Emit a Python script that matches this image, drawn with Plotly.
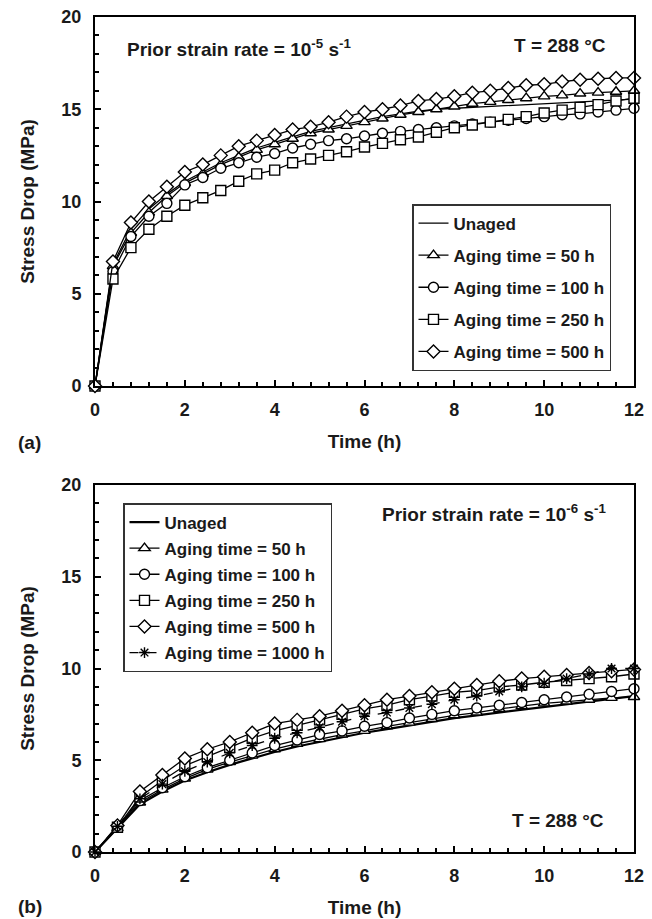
import plotly.graph_objects as go

# ---------------- Data ----------------
# Panel (a): prior strain rate 1e-5 s^-1, sampled every 0.4 h
time_a = [round(0.4 * i, 1) for i in range(31)]
a_unaged = [0, 6.6, 8.5, 9.6, 10.4, 11.1, 11.6, 12.1, 12.5, 12.9, 13.2, 13.5, 13.8, 14.0, 14.2,
            14.4, 14.6, 14.75, 14.9, 15.0, 15.05, 15.1, 15.15, 15.2, 15.25, 15.3, 15.35, 15.4,
            15.45, 15.5, 15.55]
a_50h = [0, 6.5, 8.3, 9.4, 10.3, 11.0, 11.5, 12.0, 12.4, 12.8, 13.1, 13.4, 13.7, 13.9, 14.1,
         14.3, 14.5, 14.7, 14.85, 15.0, 15.15, 15.3, 15.4, 15.5, 15.6, 15.7, 15.75, 15.85,
         15.9, 15.95, 16.0]
a_100h = [0, 6.2, 8.1, 9.2, 9.9, 10.9, 11.3, 11.8, 12.1, 12.4, 12.6, 12.9, 13.1, 13.3, 13.4,
          13.55, 13.7, 13.8, 13.9, 14.0, 14.1, 14.2, 14.3, 14.4, 14.5, 14.6, 14.7, 14.75,
          14.85, 14.95, 15.05]
a_250h = [0, 5.8, 7.5, 8.5, 9.2, 9.8, 10.2, 10.6, 11.1, 11.5, 11.7, 12.1, 12.3, 12.5, 12.7,
          12.95, 13.15, 13.35, 13.5, 13.75, 14.0, 14.15, 14.3, 14.45, 14.6, 14.8, 14.95,
          15.1, 15.25, 15.45, 15.6]
a_500h = [0, 6.75, 8.86, 10.0, 10.8, 11.6, 12.0, 12.5, 13.0, 13.3, 13.6, 13.9, 14.05, 14.3,
          14.6, 14.85, 15.0, 15.2, 15.45, 15.55, 15.7, 15.9, 16.0, 16.15, 16.3, 16.35, 16.5,
          16.6, 16.65, 16.7, 16.7]

# Panel (b): prior strain rate 1e-6 s^-1, sampled every 0.5 h
time_b = [0.5 * i for i in range(25)]
b_unaged = [0, 1.3, 2.6, 3.3, 3.9, 4.35, 4.75, 5.1, 5.45, 5.75, 6.0, 6.25, 6.5, 6.7, 6.9, 7.1,
            7.3, 7.45, 7.6, 7.75, 7.9, 8.05, 8.2, 8.35, 8.5]
b_50h = [0, 1.3, 2.7, 3.4, 4.0, 4.5, 4.9, 5.25, 5.6, 5.9, 6.15, 6.4, 6.6, 6.85, 7.05, 7.25,
         7.45, 7.6, 7.8, 7.95, 8.1, 8.2, 8.3, 8.4, 8.45]
b_100h = [0, 1.35, 2.8, 3.5, 4.1, 4.6, 5.0, 5.4, 5.8, 6.1, 6.4, 6.6, 6.85, 7.05, 7.3, 7.5,
          7.7, 7.85, 8.0, 8.15, 8.3, 8.45, 8.6, 8.75, 8.9]
b_250h = [0, 1.35, 3.0, 3.9, 4.7, 5.2, 5.7, 6.2, 6.6, 6.9, 7.2, 7.5, 7.8, 8.0, 8.3, 8.5, 8.7,
          8.8, 9.0, 9.1, 9.25, 9.35, 9.45, 9.55, 9.7]
b_500h = [0, 1.45, 3.3, 4.2, 5.1, 5.6, 6.0, 6.5, 7.0, 7.2, 7.4, 7.7, 8.0, 8.3, 8.5, 8.7, 8.9,
          9.1, 9.3, 9.45, 9.55, 9.65, 9.75, 9.85, 9.95]
b_1000h = [0, 1.4, 2.9, 3.7, 4.4, 4.9, 5.4, 5.8, 6.2, 6.5, 6.8, 7.1, 7.4, 7.6, 7.85, 8.05,
           8.3, 8.5, 8.75, 9.0, 9.2, 9.45, 9.7, 10.0, 10.0]

labels_a = ["Unaged", "Aging time = 50 h", "Aging time = 100 h", "Aging time = 250 h",
            "Aging time = 500 h"]
labels_b = labels_a + ["Aging time = 1000 h"]
symbols = [None, "triangle-up", "circle", "square", "diamond", "asterisk-open"]

FONT = "Liberation Sans, Arial, sans-serif"
TXT = "#1a1a1a"

fig = go.Figure()

series_a = [a_unaged, a_50h, a_100h, a_250h, a_500h]
for i, (lab, ys) in enumerate(zip(labels_a, series_a)):
    if symbols[i] is None:
        mode = "lines"
        marker = None
    else:
        mode = "lines+markers"
        marker = dict(symbol=symbols[i], size=10, color="white",
                      line=dict(color="black", width=1.4))
    fig.add_trace(go.Scatter(x=time_a, y=ys, name=lab, mode=mode, marker=marker,
                             line=dict(color="black", width=1.3),
                             xaxis="x", yaxis="y", legend="legend",
                             legendgroup="a%d" % i, cliponaxis=False))

series_b = [b_unaged, b_50h, b_100h, b_250h, b_500h, b_1000h]
for i, (lab, ys) in enumerate(zip(labels_b, series_b)):
    if symbols[i] is None:
        mode = "lines"
        marker = None
        lw = 2.2
        dash = "solid"
    else:
        mode = "lines+markers"
        marker = dict(symbol=symbols[i], size=10, color="white",
                      line=dict(color="black", width=1.4))
        lw = 1.3
        dash = "dash" if i == 5 else "solid"
    if i == 5:
        marker = dict(symbol="asterisk-open", size=9, color="black",
                      line=dict(color="black", width=1.4))
    fig.add_trace(go.Scatter(x=time_b, y=ys, name=lab, mode=mode, marker=marker,
                             line=dict(color="black", width=lw, dash=dash),
                             xaxis="x2", yaxis="y2", legend="legend2",
                             legendgroup="b%d" % i, cliponaxis=False))

W, H = 652, 919
L, R, T, B = 95, 18, 17, 67
pw, ph = W - L - R, H - T - B


def px(xp):
    return (xp - L) / pw


def py(yp):
    return (H - B - yp) / ph


tickfont = dict(family=FONT, size=18, color=TXT, weight="bold")
titlefont = dict(family=FONT, size=19, color=TXT, weight="bold")

xcommon = dict(range=[0, 12], dtick=2, tick0=0, ticks="inside", ticklen=6, tickwidth=2,
               tickcolor="black", showline=True, linecolor="black", linewidth=2,
               mirror=True, showgrid=False, zeroline=False, tickfont=tickfont,
               ticklabelstandoff=6, automargin=False,
               minor=dict(dtick=0.4, tick0=0, ticks="inside", ticklen=4, tickwidth=1.5,
                          tickcolor="black", showgrid=False),
               title=dict(text="Time (h)", font=titlefont, standoff=16))
ycommon = dict(range=[0, 20], dtick=5, tick0=0, ticks="inside", ticklen=6, tickwidth=2,
               tickcolor="black", showline=True, linecolor="black", linewidth=2,
               mirror=True, showgrid=False, zeroline=False, tickfont=tickfont,
               ticklabelstandoff=8, automargin=False,
               minor=dict(dtick=1, tick0=0, ticks="inside", ticklen=4, tickwidth=1.5,
                          tickcolor="black", showgrid=False),
               title=dict(text="Stress Drop (MPa)", font=titlefont, standoff=22))

legfont = dict(family=FONT, size=17, color=TXT, weight="bold")

fig.update_layout(
    width=W, height=H,
    margin=dict(l=L, r=R, t=T, b=B, autoexpand=False),
    paper_bgcolor="white", plot_bgcolor="white",
    showlegend=True,
    xaxis=dict(xcommon, domain=[0, 1], anchor="y"),
    yaxis=dict(ycommon, domain=[py(386), 1], anchor="x"),
    xaxis2=dict(xcommon, domain=[0, 1], anchor="y2"),
    yaxis2=dict(ycommon, domain=[0, py(485)], anchor="x2"),
    legend=dict(x=px(412), y=py(204), xanchor="left", yanchor="top",
                bgcolor="white", bordercolor="#333", borderwidth=1.5,
                font=legfont, tracegroupgap=7, itemwidth=30,
                traceorder="grouped"),
    legend2=dict(x=px(123), y=py(503), xanchor="left", yanchor="top",
                 bgcolor="white", bordercolor="#333", borderwidth=1.5,
                 font=legfont, tracegroupgap=1, itemwidth=30,
                 traceorder="grouped"),
)

annfont = dict(family=FONT, size=19, color=TXT, weight="bold")
annotations = [
    dict(text="Prior strain rate = 10<sup>-5</sup> s<sup>-1</sup>", x=px(125), y=py(48),
         xanchor="left", yanchor="middle"),
    dict(text="T = 288 °C", x=px(608), y=py(45), xanchor="right", yanchor="middle"),
    dict(text="Prior strain rate = 10<sup>-6</sup> s<sup>-1</sup>", x=px(380), y=py(513),
         xanchor="left", yanchor="middle"),
    dict(text="T = 288 °C", x=px(606), y=py(820), xanchor="right", yanchor="middle"),
    dict(text="(a)", x=px(16), y=py(443), xanchor="left", yanchor="middle"),
    dict(text="(b)", x=px(16), y=py(906), xanchor="left", yanchor="middle"),
]
for a in annotations:
    fig.add_annotation(xref="paper", yref="paper", showarrow=False, font=annfont, **a)

fig.write_html("out.html")
